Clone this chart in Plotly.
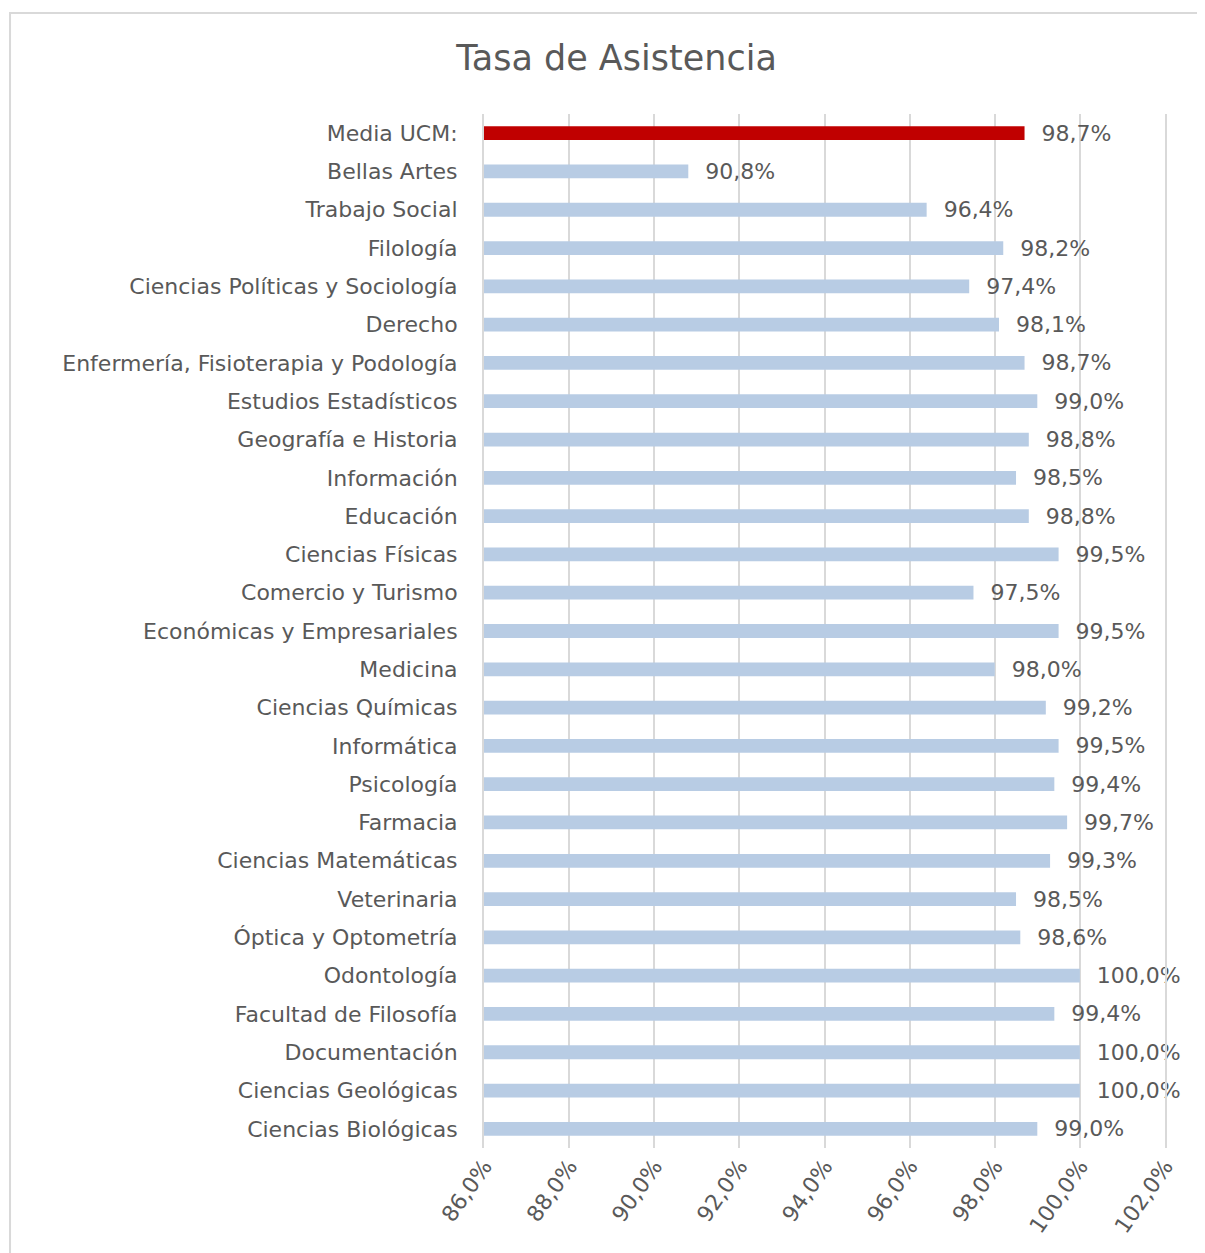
import plotly.graph_objects as go

# categories top -> bottom as in the chart
facultades = [
    "Media UCM:", "Bellas Artes", "Trabajo Social", "Filología",
    "Ciencias Políticas y Sociología", "Derecho",
    "Enfermería, Fisioterapia y Podología", "Estudios Estadísticos",
    "Geografía e Historia", "Información", "Educación", "Ciencias Físicas",
    "Comercio y Turismo", "Económicas y Empresariales", "Medicina",
    "Ciencias Químicas", "Informática", "Psicología", "Farmacia",
    "Ciencias Matemáticas", "Veterinaria", "Óptica y Optometría",
    "Odontología", "Facultad de Filosofía", "Documentación",
    "Ciencias Geológicas", "Ciencias Biológicas",
]
tasa = [
    0.987, 0.908, 0.964, 0.982, 0.974, 0.981, 0.987, 0.990, 0.988, 0.985,
    0.988, 0.995, 0.975, 0.995, 0.980, 0.992, 0.995, 0.994, 0.997, 0.993,
    0.985, 0.986, 1.000, 0.994, 1.000, 1.000, 0.990,
]
x_ticks = [0.86, 0.88, 0.90, 0.92, 0.94, 0.96, 0.98, 1.00, 1.02]

GRAY = "#595959"
GRID = "#d9d9d9"
colors = ["#c00000" if f.startswith("Media") else "#b8cce4" for f in facultades]

fig = go.Figure()
fig.add_trace(go.Bar(
    x=tasa, y=facultades, orientation="h",
    marker=dict(color=colors, line_width=0),
    width=0.36,
    texttemplate="\u00a0\u00a0%{x:.1%}", textposition="outside",
    constraintext="none",
    textfont=dict(size=22, color=GRAY),
    cliponaxis=False,
))

fig.update_layout(
    width=1205, height=1253,
    separators=",.",
    font=dict(family="DejaVu Sans, sans-serif", color=GRAY),
    title=dict(text="Tasa de Asistencia", x=0.505, xanchor="center",
               y=0.96, yanchor="middle", font=dict(size=35, color=GRAY)),
    margin=dict(l=476, r=48, t=106, b=113),
    paper_bgcolor="white", plot_bgcolor="white",
    showlegend=False,
    xaxis=dict(range=[0.86, 1.02], tickvals=x_ticks, tickformat=".1%",
               tickangle=-55, tickfont=dict(size=22, color=GRAY),
               showgrid=True, gridcolor=GRID, gridwidth=2,
               zeroline=False, showline=False, ticks=""),
    yaxis=dict(categoryorder="array", categoryarray=facultades[::-1],
               tickfont=dict(size=22, color=GRAY), ticks="",
               ticklabelstandoff=20, showgrid=False,
               showline=True, mirror=True, linecolor=GRID, linewidth=2),
    shapes=[dict(type="rect", xref="paper", yref="paper",
                 x0=-0.696, x1=1.07, y0=-0.11, y1=1.0977,
                 line=dict(color=GRID, width=2))],
)

fig.write_html("out.html")
